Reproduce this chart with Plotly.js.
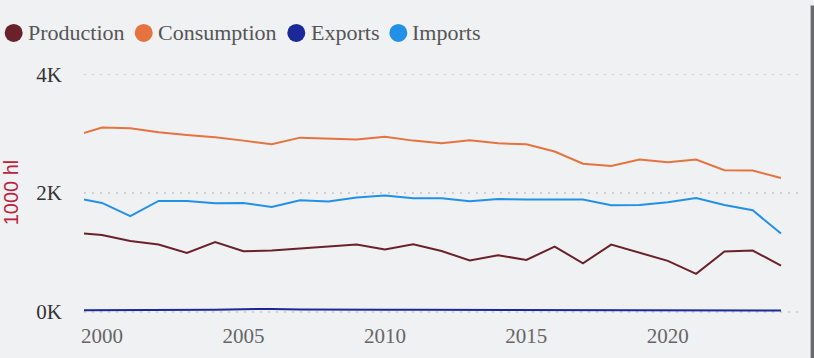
<!DOCTYPE html>
<html>
<head>
<meta charset="utf-8">
<script src="https://cdn.plot.ly/plotly-3.0.1.min.js"></script>
<style>
  html, body { margin: 0; padding: 0; background: #f0f1f3; }
  #chart { width: 814px; height: 358px; }
</style>
</head>
<body>
<div id="chart"></div>
<script>
// ---- data (1000 hl) ----
const years = [1999, 2000, 2001, 2002, 2003, 2004, 2005, 2006, 2007, 2008, 2009, 2010, 2011, 2012, 2013, 2014, 2015, 2016, 2017, 2018, 2019, 2020, 2021, 2022, 2023, 2024];
const production  = [1333, 1294, 1194, 1133, 991, 1177, 1020, 1032, 1066, 1105, 1133, 1048, 1138, 1025, 864, 953, 874, 1099, 818, 1133, 998, 858, 639, 1015, 1032, 779];
const consumption = [2960, 3103, 3091, 3024, 2978, 2939, 2884, 2822, 2934, 2922, 2901, 2951, 2884, 2839, 2889, 2839, 2822, 2700, 2496, 2456, 2564, 2519, 2564, 2384, 2379, 2254];
const exportsV    = [25, 25, 25, 25, 28, 35, 45, 48, 38, 33, 33, 33, 33, 32, 30, 30, 30, 28, 28, 28, 28, 28, 28, 28, 25, 22];
const importsV    = [1924, 1834, 1610, 1867, 1867, 1829, 1834, 1766, 1879, 1860, 1924, 1958, 1912, 1912, 1862, 1901, 1890, 1884, 1890, 1795, 1800, 1845, 1918, 1800, 1710, 1318];

const seriesNames  = ['Production', 'Consumption', 'Exports', 'Imports'];
const seriesValues = [production, consumption, exportsV, importsV];
const seriesColors = ['#6b2129', '#e5733f', '#1a2899', '#2191e6'];

const yTickVals = [0, 2000, 4000];
const yTickText = ['0K', '2K', '4K'];
const yTitle = '1000 hl';

// ---- geometry (pixels) ----
const W = 814, H = 358;
const M = { l: 84.3, r: 14, t: 71.6, b: 45.2 };
const pw = W - M.l - M.r, ph = H - M.t - M.b;
const px2x = p => (p - M.l) / pw;
const py2y = p => (H - M.b - p) / ph;

const traces = seriesNames.map((n, i) => ({
  type: 'scatter', mode: 'lines', name: n,
  x: years, y: seriesValues[i],
  line: { color: seriesColors[i], width: 2 },
  showlegend: false, hoverinfo: 'x+y+name'
}));

// manual legend (dots + labels)
const legendDotX = [14, 144, 296.5, 398.5];
const legendTextX = [26, 156, 309, 410];
const legendY = 32.5;
const shapes = seriesNames.map((n, i) => ({
  type: 'circle', xref: 'paper', yref: 'paper',
  xsizemode: 'pixel', ysizemode: 'pixel',
  xanchor: px2x(legendDotX[i]), yanchor: py2y(legendY),
  x0: -9, x1: 9, y0: -9, y1: 9,
  fillcolor: seriesColors[i], line: { width: 0 }
}));
shapes.push({
  type: 'rect', xref: 'paper', yref: 'paper',
  x0: px2x(810.6), x1: px2x(814), y0: py2y(358), y1: py2y(5),
  fillcolor: '#686b6f', line: { width: 0 }
});
const annotations = seriesNames.map((n, i) => ({
  text: n, xref: 'paper', yref: 'paper',
  x: px2x(legendTextX[i]), y: py2y(legendY),
  xanchor: 'left', yanchor: 'middle', showarrow: false,
  font: { family: 'Liberation Serif, Times New Roman, serif', size: 22, color: '#555555' }
}));

const layout = {
  width: W, height: H,
  margin: M,
  paper_bgcolor: '#f0f1f3', plot_bgcolor: '#f0f1f3',
  showlegend: false,
  xaxis: {
    range: [1999.364, 2024.672],
    tick0: 2000, dtick: 5,
    showgrid: false, zeroline: false, showline: false,
    ticks: 'outside', ticklen: 4, tickcolor: 'rgba(0,0,0,0)',
    tickfont: { family: 'Liberation Serif, Times New Roman, serif', size: 21, color: '#666666' }
  },
  yaxis: {
    range: [-20, 4040],
    tickvals: yTickVals, ticktext: yTickText,
    showgrid: true, gridcolor: '#cfd0d2', griddash: '1.5px,6.5px', gridwidth: 1.5,
    zeroline: false, showline: false,
    ticks: 'outside', ticklen: 17, tickcolor: 'rgba(0,0,0,0)',
    tickfont: { family: 'Liberation Serif, Times New Roman, serif', size: 21, color: '#333333' },
    title: { text: yTitle, standoff: 14,
             font: { family: 'Liberation Sans, Arial, sans-serif', size: 20, color: '#b8233f' } }
  },
  shapes: shapes,
  annotations: annotations
};

Plotly.newPlot('chart', traces, layout, { displayModeBar: false, staticPlot: true });
</script>
</body>
</html>
